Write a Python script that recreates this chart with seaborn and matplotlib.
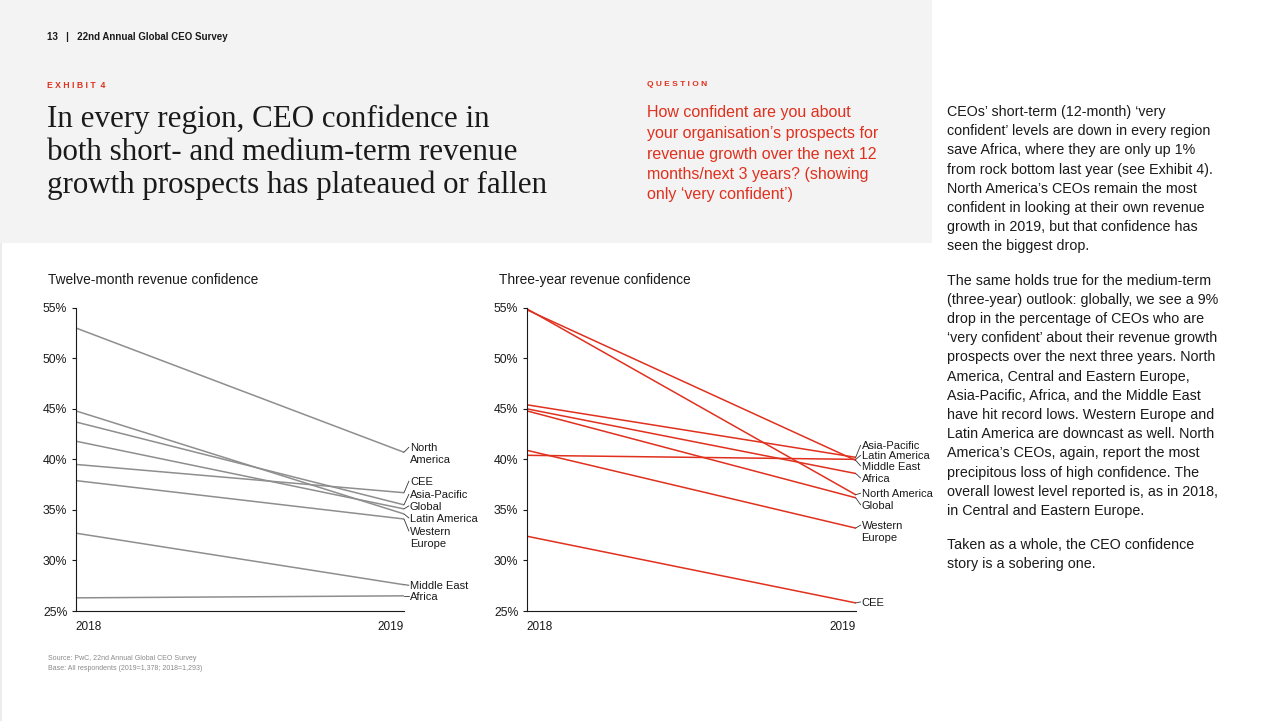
import matplotlib
matplotlib.use("Agg")
import matplotlib.pyplot as plt
from matplotlib.patches import Rectangle
import pandas as pd
import seaborn as sns

# Twelve-month 'very confident' share (%)
regions_12m = ["North America", "CEE", "Asia-Pacific", "Global", "Latin America",
               "Western Europe", "Middle East", "Africa"]
conf_12m_2018 = [53.0, 39.5, 43.7, 41.8, 44.8, 37.9, 32.7, 26.3]
conf_12m_2019 = [40.7, 36.7, 35.5, 35.1, 34.6, 34.1, 27.6, 26.5]

# Three-year 'very confident' share (%)
regions_3y = ["Asia-Pacific", "Latin America", "Middle East", "Africa", "North America",
              "Global", "Western Europe", "CEE"]
conf_3y_2018 = [45.4, 40.4, 54.8, 45.0, 54.9, 44.8, 40.9, 32.4]
conf_3y_2019 = [40.2, 40.0, 39.9, 38.6, 36.5, 36.2, 33.2, 25.8]

years = [2018, 2019]
y_ticks = [25, 30, 35, 40, 45, 50, 55]

# where the end labels sit (first text line), so they don't collide
label_y_12m = [41.2, 37.85, 36.55, 35.4, 34.2, 32.9, 27.55, 26.5]
label_y_3y = [41.4, 40.4, 39.35, 38.15, 36.65, 35.5, 33.5, 25.9]
label_text_12m = {"North America": "North\nAmerica", "Western Europe": "Western\nEurope"}
label_text_3y = {"Western Europe": "Western\nEurope"}

RED = "#e0301e"
GREY = "#8e8e8e"
INK = "#1a1a1a"
W, H = 1280, 721

sns.set_style("white")
plt.rcParams["font.family"] = ["Liberation Sans", "DejaVu Sans"]

fig = plt.figure(figsize=(12.8, 7.21), dpi=100)
fig.patch.set_facecolor("white")


def ftext(x, y, s, **kw):
    # place text in pixel coordinates of the page (y from the top)
    return fig.text(x / W, 1 - y / H, s, **kw)


# light grey header block
fig.patches.append(Rectangle((0, 1 - 243 / H), 932 / W, 243 / H, transform=fig.transFigure,
                             facecolor="#f3f3f3", edgecolor="none", zorder=0))
fig.patches.append(Rectangle((0, 0), 2 / W, 1 - 243 / H, transform=fig.transFigure,
                             facecolor="#ececec", edgecolor="none", zorder=0))

ftext(47, 37, "13   |   22nd Annual Global CEO Survey", fontsize=7.0, fontweight="bold",
      color=INK, va="center")
ftext(47, 85, "E X H I B I T  4", fontsize=6.2, fontweight="bold", color=RED, va="center")
ftext(647, 85, "Q U E S T I O N", fontsize=6.0, fontweight="bold", color=RED, va="center")

title_lines = ["In every region, CEO confidence in",
               "both short- and medium-term revenue",
               "growth prospects has plateaued or fallen"]
for i, line in enumerate(title_lines):
    ftext(47, 126.7 + i * 33.3, line, fontsize=22.3, color=INK, va="baseline",
          family=["Liberation Serif", "DejaVu Serif"])

question_lines = ["How confident are you about",
                  "your organisation\u2019s prospects for",
                  "revenue growth over the next 12",
                  "months/next 3 years? (showing",
                  "only \u2018very confident\u2019)"]
for i, line in enumerate(question_lines):
    ftext(647, 113 + i * 20.5, line, fontsize=11.5, color=RED, va="center")

body = [
    ["CEOs\u2019 short-term (12-month) \u2018very",
     "confident\u2019 levels are down in every region",
     "save Africa, where they are only up 1%",
     "from rock bottom last year (see Exhibit 4).",
     "North America\u2019s CEOs remain the most",
     "confident in looking at their own revenue",
     "growth in 2019, but that confidence has",
     "seen the biggest drop."],
    ["The same holds true for the medium-term",
     "(three-year) outlook: globally, we see a 9%",
     "drop in the percentage of CEOs who are",
     "\u2018very confident\u2019 about their revenue growth",
     "prospects over the next three years. North",
     "America, Central and Eastern Europe,",
     "Asia-Pacific, Africa, and the Middle East",
     "have hit record lows. Western Europe and",
     "Latin America are downcast as well. North",
     "America\u2019s CEOs, again, report the most",
     "precipitous loss of high confidence. The",
     "overall lowest level reported is, as in 2018,",
     "in Central and Eastern Europe."],
    ["Taken as a whole, the CEO confidence",
     "story is a sobering one."],
]
y = 112
for para in body:
    for line in para:
        ftext(947, y, line, fontsize=10.3, color=INK, va="center")
        y += 19.2
    y += 15

ftext(48, 659, "Source: PwC, 22nd Annual Global CEO Survey", fontsize=5.0, color="#8a8a8a", va="center")
ftext(48, 669, "Base: All respondents (2019=1,378; 2018=1,293)", fontsize=5.0, color="#8a8a8a", va="center")


def draw_panel(ax, regions, v2018, v2019, label_y, names, color, title, title_x):
    df = pd.DataFrame({
        "region": regions * 2,
        "year": [years[0]] * len(regions) + [years[1]] * len(regions),
        "value": v2018 + v2019,
    })
    sns.lineplot(data=df, x="year", y="value", units="region", estimator=None,
                 color=color, linewidth=1.1, ax=ax, legend=False)
    ax.set_xlim(years[0], years[1])
    ax.set_ylim(25, 55)
    ax.set_xlabel("")
    ax.set_ylabel("")
    ax.set_facecolor("none")
    ax.set_yticks(y_ticks)
    ax.set_yticklabels([f"{t}%" for t in y_ticks])
    ax.set_xticks(years)
    ax.set_xticklabels([str(yr) for yr in years])
    xt = ax.get_xticklabels()
    xt[0].set_ha("left")
    xt[1].set_ha("right")
    ax.tick_params(axis="x", length=0, pad=7, labelsize=8.5, colors=INK)
    ax.tick_params(axis="y", length=3, width=0.8, pad=3, labelsize=8.8, colors=INK,
                   direction="out", left=True)
    for side in ["top", "right"]:
        ax.spines[side].set_visible(False)
    for side in ["left", "bottom"]:
        ax.spines[side].set_color(INK)
        ax.spines[side].set_linewidth(0.8)

    # end labels with short leader lines
    for reg, end, ly in zip(regions, v2019, label_y):
        txt = names.get(reg, reg)
        extra = txt.count("\n")
        ax.plot([years[1], years[1] + 0.015], [end, ly], color="#333333", lw=0.6,
                clip_on=False)
        ax.text(years[1] + 0.018, ly - 0.5 * extra, txt, fontsize=8, color=INK,
                ha="left", va="center_baseline", linespacing=1.2, clip_on=False)

    ftext(title_x, 280, title, fontsize=9.9, color=INK, va="center")


ax1 = fig.add_axes([75.7 / W, 1 - 611 / H, (404 - 75.7) / W, (611 - 307.7) / H])
ax2 = fig.add_axes([526.7 / W, 1 - 611 / H, (855.7 - 526.7) / W, (611 - 307.7) / H])

draw_panel(ax1, regions_12m, conf_12m_2018, conf_12m_2019, label_y_12m, label_text_12m,
           GREY, "Twelve-month revenue confidence", 48)
draw_panel(ax2, regions_3y, conf_3y_2018, conf_3y_2019, label_y_3y, label_text_3y,
           RED, "Three-year revenue confidence", 499)

fig.savefig("out.png", dpi=100)
